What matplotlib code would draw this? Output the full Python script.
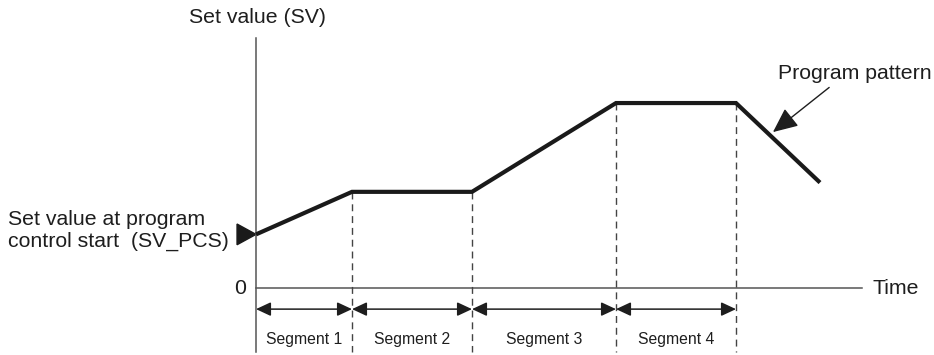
import matplotlib
matplotlib.use('Agg')
import matplotlib.pyplot as plt
from matplotlib.patches import Polygon

# ===== DADOS =====
# tempo (unidades arbitrárias) nos limites dos segmentos e valor SV em cada ponto
pattern_time = [0.0, 4.0, 9.0, 15.0, 20.0, 23.5]
pattern_sv = [2.9, 5.2, 5.2, 10.0, 10.0, 5.7]
segment_bounds = [0.0, 4.0, 9.0, 15.0, 20.0]
segment_labels = ['Segment 1', 'Segment 2', 'Segment 3', 'Segment 4']

# ===== FIGURA =====
plt.rcParams['font.family'] = ['Liberation Sans', 'DejaVu Sans']
fig = plt.figure(figsize=(9.34, 3.55), dpi=100)
ax = fig.add_axes([0, 0, 1, 1])
ax.set_xlim(-10.667, 28.25)
ax.set_ylim(-3.62, 15.57)
ax.axis('off')

axis_col = '#555555'
txt_col = '#1e1e1e'
fs_big = 15.3

# eixos
ax.plot([0, 0], [-3.46, 13.5], color=axis_col, lw=1.1)
ax.plot([0, 25.25], [0, 0], color=axis_col, lw=1.1)

# linhas tracejadas nos limites dos segmentos
for t in segment_bounds[1:]:
    i = pattern_time.index(t)
    ax.plot([t, t], [pattern_sv[i], -3.46], color='#444444', lw=1.0,
            ls=(0, (5, 3.5)))

# setas duplas de cada segmento
arrow_y = -1.14
for a, b, lab in zip(segment_bounds[:-1], segment_bounds[1:], segment_labels):
    ax.annotate('', xy=(b, arrow_y), xytext=(a, arrow_y),
                arrowprops=dict(arrowstyle='<|-|>,head_length=0.9,head_width=0.42',
                                color='#1e1e1e', lw=1.1, shrinkA=0, shrinkB=0))
    ax.text((a + b) / 2, -2.8, lab, fontsize=11.3, ha='center', va='center',
            color=txt_col)

# padrão do programa
ax.plot(pattern_time, pattern_sv, color='#1a1a1a', lw=3.0,
        solid_joinstyle='miter', solid_capstyle='butt')

# marcador de SV_PCS
tri = Polygon([[-0.79, pattern_sv[0] + 0.56], [0, pattern_sv[0]],
               [-0.79, pattern_sv[0] - 0.56]], closed=True, color='#1a1a1a')
ax.add_patch(tri)

# textos
ax.text(-2.79, 14.6, 'Set value (SV)', fontsize=fs_big, ha='left', va='center',
        color=txt_col)
ax.text(-0.4, 0, '0', fontsize=fs_big, ha='right', va='center', color=txt_col)
ax.text(25.7, 0, 'Time', fontsize=fs_big, ha='left', va='center', color=txt_col)
ax.text(-10.33, 3.1, 'Set value at program\ncontrol start  (SV_PCS)',
        fontsize=fs_big, ha='left', va='center', linespacing=1.2,
        color=txt_col)

ax.annotate('Program pattern', xy=(21.54, 8.43), xytext=(21.75, 11.6),
            fontsize=fs_big, ha='left', va='center', color=txt_col,
            arrowprops=dict(arrowstyle='-|>,head_length=1.0,head_width=0.45',
                            color='#1e1e1e', lw=1.0, shrinkA=2, shrinkB=0,
                            relpos=(0.37, 0.0)))

plt.savefig('out.png', dpi=100)
